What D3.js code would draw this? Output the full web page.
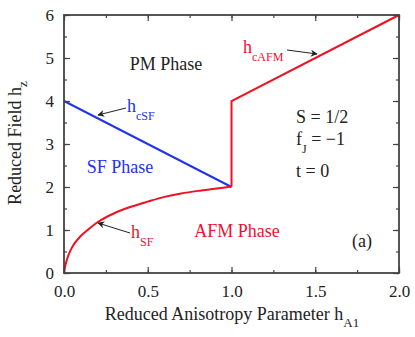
<!DOCTYPE html>
<html><head><meta charset="utf-8">
<script src="https://cdn.jsdelivr.net/npm/d3@7"></script>
<style>body{margin:0;background:#fff}svg{display:block}</style>
</head><body><svg id="c" width="415" height="337"></svg>
<script>
const xTicks = [0, 0.5, 1.0, 1.5, 2.0];
const yTicks = [0, 1, 2, 3, 4, 5, 6];
const hSF = [[0,0],[0.005,0.12],[0.015,0.28],[0.03,0.45],[0.05,0.61],[0.1,0.86],[0.15,1.03],[0.2,1.18],[0.3,1.39],[0.4,1.54],[0.5,1.66],[0.6,1.77],[0.7,1.85],[0.8,1.91],[0.9,1.96],[1.0,2.01]];
const hcSF = [[0,4],[1,2]];
const hcAFM = [[1,2.01],[1,4],[2,6]];

const FONT = "'Liberation Serif'";
const svg = d3.select("#c");
const m = {l:64, r:399, t:15, b:273};
const x = d3.scaleLinear().domain([0,2]).range([m.l, m.r]);
const y = d3.scaleLinear().domain([0,6]).range([m.b, m.t]);
const axisCol = "#444";
const BLUE = "#2233ee", RED = "#ee1122", TRED = "#ee1133";

// curves
const line = d3.line().x(d=>x(d[0])).y(d=>y(d[1]));
const sfLine = d3.line().x(d=>x(d[0])).y(d=>y(d[1])).curve(d3.curveMonotoneX);
svg.append("path").attr("d", line(hcSF)).attr("fill","none").attr("stroke",BLUE).attr("stroke-width",2);
svg.append("path").attr("d", sfLine(hSF)).attr("fill","none").attr("stroke",RED).attr("stroke-width",2);
svg.append("path").attr("d", line(hcAFM)).attr("fill","none").attr("stroke",RED).attr("stroke-width",2);

// axes
const xMinor = d3.range(0, 2.001, 0.25);
const yMinor = d3.range(0, 6.001, 0.5);
function ax(g, axis){ g.call(axis); g.attr("font-family",null).attr("font-size",null); g.select(".domain").remove(); g.selectAll("line").attr("stroke",axisCol).attr("stroke-width",1.2); }
svg.append("g").attr("transform",`translate(0,${m.b})`).call(g=>ax(g,d3.axisBottom(x).tickValues(xMinor).tickSize(-3).tickFormat("")));
svg.append("g").attr("transform",`translate(0,${m.b})`).call(g=>ax(g,d3.axisBottom(x).tickValues(xTicks).tickSize(-6).tickPadding(12).tickFormat(d3.format(".1f"))));
svg.append("g").attr("transform",`translate(0,${m.t})`).call(g=>ax(g,d3.axisTop(x).tickValues(xMinor).tickSize(-3).tickFormat("")));
svg.append("g").attr("transform",`translate(0,${m.t})`).call(g=>ax(g,d3.axisTop(x).tickValues(xTicks).tickSize(-6).tickFormat("")));
svg.append("g").attr("transform",`translate(${m.l},0)`).call(g=>ax(g,d3.axisLeft(y).tickValues(yMinor).tickSize(-3).tickFormat("")));
svg.append("g").attr("transform",`translate(${m.l},0)`).call(g=>ax(g,d3.axisLeft(y).tickValues(yTicks).tickSize(-6).tickPadding(10).tickFormat(d3.format("d"))));
svg.append("g").attr("transform",`translate(${m.r},0)`).call(g=>ax(g,d3.axisRight(y).tickValues(yMinor).tickSize(-3).tickFormat("")));
svg.append("g").attr("transform",`translate(${m.r},0)`).call(g=>ax(g,d3.axisRight(y).tickValues(yTicks).tickSize(-6).tickFormat("")));
svg.selectAll(".tick text").style("font-family",FONT).style("font-size","17px").attr("fill","#222");
svg.append("rect").attr("x",m.l).attr("y",m.t).attr("width",m.r-m.l).attr("height",m.b-m.t).attr("fill","none").attr("stroke",axisCol).attr("stroke-width",1.8);

function txt(xp, yp, col, size){
  return svg.append("text").attr("x",xp).attr("y",yp).style("font-family",FONT).style("font-size",size+"px").attr("fill",col);
}

// axis labels
const xl = txt(232,320,"#222",18).attr("text-anchor","middle");
xl.append("tspan").text("Reduced Anisotropy Parameter h");
xl.append("tspan").attr("dy",7).style("font-size","13px").text("A1");
const yl = svg.append("text").attr("transform","translate(21,143) rotate(-90)").attr("text-anchor","middle").style("font-family",FONT).style("font-size","18px").attr("fill","#222");
yl.append("tspan").text("Reduced Field  h");
yl.append("tspan").attr("dy",6).style("font-size","13px").text("z");

// phase labels
txt(166,70,"#222",18).attr("text-anchor","middle").text("PM Phase");
txt(120,173,BLUE,18).attr("text-anchor","middle").text("SF Phase");
txt(237,237,TRED,18).attr("text-anchor","middle").text("AFM Phase");
txt(362,247,"#222",18).attr("text-anchor","middle").text("(a)");

// parameters
txt(296,123,"#222",18).text("S = 1/2");
const fj = txt(296,145,"#222",18);
fj.append("tspan").text("f");
fj.append("tspan").attr("dy",8).style("font-size","12px").text("J");
fj.append("tspan").attr("dy",-8).text(" = −1");
txt(296,177,"#222",18).text("t = 0");

// curve labels
function sub(xp, yp, main, s, col){
  const t = txt(xp,yp,col,18);
  t.append("tspan").text(main);
  t.append("tspan").attr("dy",8).style("font-size","12px").text(s);
}
sub(127,112,"h","cSF",BLUE);
sub(131,238,"h","SF",TRED);
sub(243,53,"h","cAFM",TRED);

// arrows
const defs = svg.append("defs");
defs.append("marker").attr("id","ah").attr("viewBox","0 0 10 10").attr("refX",9).attr("refY",5)
  .attr("markerWidth",9).attr("markerHeight",7).attr("orient","auto").attr("markerUnits","userSpaceOnUse")
  .append("path").attr("d","M0,0 L10,5 L0,10 L3,5 Z").attr("fill","#222");
function arrow(x1,y1,x2,y2){ svg.append("line").attr("x1",x1).attr("y1",y1).attr("x2",x2).attr("y2",y2).attr("stroke","#222").attr("stroke-width",1).attr("marker-end","url(#ah)"); }
arrow(126,108,98,115);
arrow(130,233,98,223);
arrow(287,50,317,54);
</script></body></html>
